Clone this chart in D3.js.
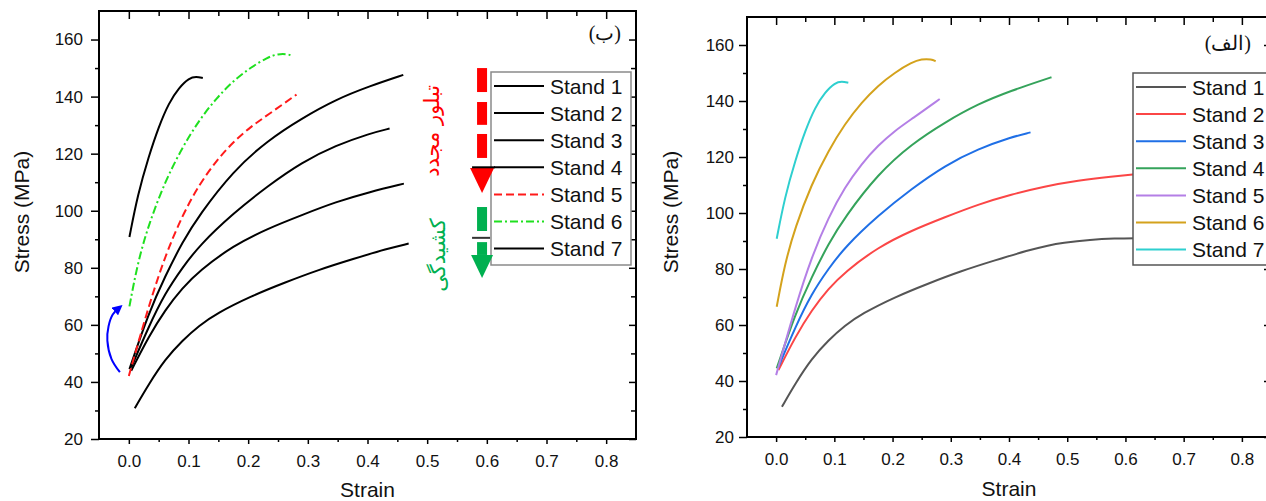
<!DOCTYPE html>
<html>
<head>
<meta charset="utf-8">
<script src="https://cdn.jsdelivr.net/npm/d3@7"></script>
<style>
  body { margin: 0; background: #fff; }
  svg { display: block; font-family: 'Liberation Sans', Arial, sans-serif; }
  .axis line { stroke: #000; stroke-width: 1.5; }
  .axis text { font-size: 17px; fill: #111; }
  .title { font-size: 21px; fill: #111; }
  .legend text { font-size: 21px; fill: #111; }
</style>
</head>
<body>
<svg id="chart" width="1266" height="501"></svg>
<script>
const standNames = ['Stand 1', 'Stand 2', 'Stand 3', 'Stand 4', 'Stand 5', 'Stand 6', 'Stand 7'];

// [strain, stress MPa]
const stand1 = [[0.010, 30.8], [0.033, 39.1], [0.061, 48.0], [0.090, 54.6], [0.118, 59.8], [0.147, 64.0], [0.204, 70.0], [0.261, 74.8], [0.318, 79.3], [0.376, 83.1], [0.433, 86.7], [0.469, 88.5], [0.490, 89.3], [0.541, 90.5], [0.580, 90.9], [0.625, 91.0]];
const stand2 = [[0.004, 43.9], [0.033, 55.8], [0.061, 65.3], [0.090, 73.0], [0.118, 78.9], [0.175, 87.8], [0.233, 93.8], [0.290, 98.5], [0.347, 103.1], [0.404, 106.6], [0.461, 109.5], [0.519, 111.6], [0.576, 113.0], [0.625, 114.0]];
const stand3 = [[0.004, 45.0], [0.033, 59.3], [0.061, 71.2], [0.090, 80.1], [0.118, 87.8], [0.175, 99.1], [0.233, 108.7], [0.290, 117.0], [0.347, 122.9], [0.404, 127.1], [0.437, 128.8]];
const stand4 = [[0.001, 44.5], [0.033, 64.1], [0.061, 77.1], [0.090, 89.1], [0.118, 98.5], [0.175, 114.0], [0.233, 124.7], [0.290, 132.4], [0.347, 139.0], [0.404, 143.7], [0.460, 147.6], [0.473, 148.5]];
const stand5 = [[0.000, 42.1], [0.033, 66.5], [0.061, 84.3], [0.090, 98.5], [0.118, 109.2], [0.147, 117.6], [0.175, 124.1], [0.204, 129.4], [0.233, 133.6], [0.281, 140.7]];
const stand6 = [[0.001, 66.5], [0.015, 81.9], [0.033, 95.0], [0.061, 110.4], [0.090, 122.3], [0.118, 131.8], [0.147, 139.5], [0.175, 145.5], [0.204, 150.2], [0.233, 153.8], [0.250, 155.0], [0.267, 154.9], [0.274, 154.2]];
const stand7 = [[0.001, 90.8], [0.015, 105.7], [0.033, 118.8], [0.050, 129.4], [0.067, 137.8], [0.084, 143.1], [0.101, 146.5], [0.113, 147.0], [0.124, 146.5]];
const standData = [stand1, stand2, stand3, stand4, stand5, stand6, stand7];

// left panel only shows strain up to here
const leftMaxStrain = 0.47;

const xTicks = [0, 0.1, 0.2, 0.3, 0.4, 0.5, 0.6, 0.7, 0.8];
const xMinor = [0.05, 0.15, 0.25, 0.35, 0.45, 0.55, 0.65, 0.75];
const yTicks = [20, 40, 60, 80, 100, 120, 140, 160];
const yMinor = [30, 50, 70, 90, 110, 130, 150];

// annotation arrows on the left panel (strain, stress)
const arrowStrain = 0.592;
const redBars = [[150, 141.6], [138.1, 130.1], [126.9, 118.5]];
const redHead = [115, 106.2];
const greenBars = [[101.3, 92.9], [89.0, 84.5]];
const greenHead = [84.5, 76.4];
const blueArrow = [[-0.015, 43.4], [-0.029, 48], [-0.036, 54.5], [-0.034, 59.5], [-0.027, 63.6], [-0.017, 65.8]];

const rightColors = ['#555555', '#fb4646', '#1f6fe6', '#35a35b', '#b47fe6', '#d4a21c', '#2ecfcf'];
const leftColors = ['#000', '#000', '#000', '#000', '#ff1a1a', '#1fe01f', '#000'];
const leftDash = [null, null, null, null, '8,4', '8,3,2,3', null];

const svg = d3.select('#chart');

const panels = [
  { name: 'left', x0: 99, x1: 636, y0: 11, y1: 439, yPad: 8, yTitleX: 22, xTitleY: 497,
    legend: { x: 491, y: 72, w: 140, h: 193 }, tag: '(ب)', tagX: 621, tagY: 40 },
  { name: 'right', x0: 747, x1: 1271, y0: 17, y1: 437, yPad: 5, yTitleX: 671, xTitleY: 496,
    legend: { x: 1133, y: 73, w: 145, h: 192 }, tag: '(الف)', tagX: 1251, tagY: 50 }
];

function drawAxes(g, x, y, p) {
  const fmtX = d3.format('.1f');
  const addAxis = (axis, tr) => {
    const a = g.append('g').attr('class', 'axis').attr('transform', tr).call(axis);
    a.select('.domain').remove();
    return a;
  };
  // bottom
  addAxis(d3.axisBottom(x).tickValues(xMinor).tickSize(3).tickFormat(''), `translate(0,${p.y1})`);
  addAxis(d3.axisBottom(x).tickValues(xTicks).tickSize(5).tickPadding(11).tickFormat(fmtX), `translate(0,${p.y1})`);
  // top, ticks inward
  addAxis(d3.axisBottom(x).tickValues(xMinor).tickSize(5).tickFormat(''), `translate(0,${p.y0})`);
  addAxis(d3.axisBottom(x).tickValues(xTicks).tickSize(8).tickFormat(''), `translate(0,${p.y0})`);
  // left
  addAxis(d3.axisLeft(y).tickValues(yMinor).tickSize(4).tickFormat(''), `translate(${p.x0},0)`);
  addAxis(d3.axisLeft(y).tickValues(yTicks).tickSize(8).tickPadding(p.yPad).tickFormat(d3.format('d')), `translate(${p.x0},0)`);
  // right, ticks inward
  addAxis(d3.axisLeft(y).tickValues(yMinor).tickSize(5).tickFormat(''), `translate(${p.x1},0)`);
  addAxis(d3.axisLeft(y).tickValues(yTicks).tickSize(7).tickFormat(''), `translate(${p.x1},0)`);

  g.append('rect')
    .attr('x', p.x0).attr('y', p.y0)
    .attr('width', p.x1 - p.x0).attr('height', p.y1 - p.y0)
    .attr('fill', 'none').attr('stroke', '#000').attr('stroke-width', 2);

  g.append('text').attr('class', 'title')
    .attr('x', (p.x0 + p.x1) / 2).attr('y', p.xTitleY)
    .attr('text-anchor', 'middle').text('Strain');
  g.append('text').attr('class', 'title')
    .attr('transform', `translate(${p.yTitleX},212) rotate(-90)`)
    .attr('dy', '0.35em').attr('text-anchor', 'middle').text('Stress (MPa)');
}

function drawLegend(g, p, styleOf) {
  const L = p.legend;
  const lg = g.append('g').attr('class', 'legend');
  lg.append('rect')
    .attr('x', L.x).attr('y', L.y).attr('width', L.w).attr('height', L.h)
    .attr('fill', '#fff').attr('stroke', p.name === 'left' ? '#8a8a8a' : '#555').attr('stroke-width', 1.5);
  const row = lg.selectAll('g.row').data(standNames).enter().append('g')
    .attr('class', 'row')
    .attr('transform', (d, i) => `translate(${L.x},${L.y + 14 + i * 27.1})`);
  row.append('line')
    .attr('x1', 3).attr('x2', 53).attr('y1', 0).attr('y2', 0)
    .each(function (d, i) { styleOf(d3.select(this), i); });
  row.append('text')
    .attr('x', 59).attr('y', 0).attr('dy', '0.36em')
    .text(d => d);
}

panels.forEach((p) => {
  const g = svg.append('g');
  const x = d3.scaleLinear().domain([-0.05, 0.85]).range([p.x0, p.x1]);
  const y = d3.scaleLinear().domain([20, 170]).range([p.y1, p.y0]);
  const line = d3.line().x(d => x(d[0])).y(d => y(d[1])).curve(d3.curveBasis);

  const styleOf = (sel, i) => {
    if (p.name === 'left') {
      sel.attr('stroke', leftColors[i]).attr('stroke-dasharray', leftDash[i]);
    } else {
      sel.attr('stroke', rightColors[i]);
    }
    sel.attr('stroke-width', 2).attr('fill', 'none');
  };

  const series = standData.map(s => p.name === 'left' ? s.filter(d => d[0] <= leftMaxStrain) : s);
  g.selectAll('path.curve').data(series).enter().append('path')
    .attr('class', 'curve')
    .attr('d', line)
    .each(function (d, i) { styleOf(d3.select(this), i); });

  drawAxes(g, x, y, p);
  drawLegend(g, p, styleOf);

  g.append('text')
    .attr('x', p.tagX).attr('y', p.tagY)
    .attr('text-anchor', 'end')
    .style('font-family', "'Liberation Serif', 'DejaVu Serif', serif")
    .style('font-size', '20px').attr('fill', '#111')
    .text(p.tag);

  if (p.name !== 'left') return;

  // recrystallization / elongation arrows
  const ax = x(arrowStrain);
  g.selectAll('rect.redbar').data(redBars).enter().append('rect')
    .attr('x', ax - 5).attr('width', 10)
    .attr('y', d => y(d[0])).attr('height', d => y(d[1]) - y(d[0]))
    .attr('fill', '#ff0000');
  g.append('path')
    .attr('d', `M${ax - 12},${y(redHead[0])} L${ax + 12},${y(redHead[0])} L${ax},${y(redHead[1])} Z`)
    .attr('fill', '#ff0000');
  g.selectAll('rect.greenbar').data(greenBars).enter().append('rect')
    .attr('x', ax - 5).attr('width', 10)
    .attr('y', d => y(d[0])).attr('height', d => y(d[1]) - y(d[0]))
    .attr('fill', '#00b050');
  g.append('path')
    .attr('d', `M${ax - 11},${y(greenHead[0])} L${ax + 11},${y(greenHead[0])} L${ax},${y(greenHead[1])} Z`)
    .attr('fill', '#00b050');
  // stray black strokes over the arrows
  g.append('line').attr('x1', ax - 10).attr('x2', p.legend.x + 4)
    .attr('y1', p.legend.y + 14 + 3 * 27.1).attr('y2', p.legend.y + 14 + 3 * 27.1)
    .attr('stroke', '#000').attr('stroke-width', 2);
  g.append('line').attr('x1', ax - 10).attr('x2', ax + 8)
    .attr('y1', y(90.5)).attr('y2', y(90.5))
    .attr('stroke', '#333').attr('stroke-width', 2);

  g.append('text')
    .attr('transform', `translate(${x(0.508)},${y(128)}) rotate(-90)`)
    .attr('text-anchor', 'middle').attr('dy', '0.35em')
    .style('font-family', "'DejaVu Sans', sans-serif").style('font-size', '21px')
    .attr('fill', '#ff0000').text('تبلور مجدد');
  g.append('text')
    .attr('transform', `translate(${x(0.517)},${y(84.5)}) rotate(-90)`)
    .attr('text-anchor', 'middle').attr('dy', '0.35em')
    .style('font-family', "'DejaVu Sans', sans-serif").style('font-size', '21px')
    .attr('fill', '#00b050').text('کشیدگی');

  svg.append('defs').append('marker')
    .attr('id', 'bluehead').attr('viewBox', '0 0 10 10')
    .attr('refX', 5).attr('refY', 5)
    .attr('markerWidth', 10).attr('markerHeight', 10)
    .attr('markerUnits', 'userSpaceOnUse').attr('orient', 'auto')
    .append('path').attr('d', 'M0,0 L10,5 L0,10 Z').attr('fill', '#0000ff');
  g.append('path')
    .attr('d', d3.line().x(d => x(d[0])).y(d => y(d[1])).curve(d3.curveCatmullRom)(blueArrow))
    .attr('fill', 'none').attr('stroke', '#0000ff').attr('stroke-width', 2)
    .attr('marker-end', 'url(#bluehead)');
});
</script>
</body>
</html>
